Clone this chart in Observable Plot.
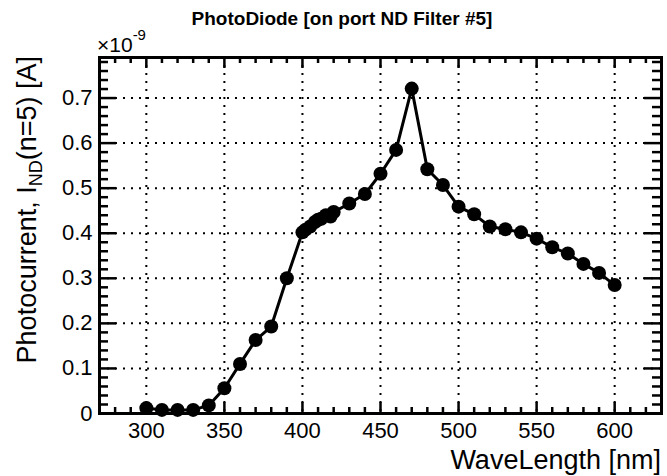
<!DOCTYPE html>
<html><head><meta charset="utf-8">
<script src="https://cdn.jsdelivr.net/npm/d3@7"></script>
<script src="https://cdn.jsdelivr.net/npm/@observablehq/plot@0.6"></script>
<style>body{margin:0;background:#fff} svg{display:block}</style>
</head><body><div id="chart"></div>
<script>
// Wavelength [nm]
const wavelength = [300,310,320,330,340,350,360,370,380,390,400,402,405,408,410,412,415,418,420,430,440,450,460,470,480,490,500,510,520,530,540,550,560,570,580,590,600];
// Photocurrent [x1e-9 A]
const current = [0.012,0.008,0.008,0.008,0.018,0.056,0.110,0.163,0.193,0.300,0.402,0.408,0.415,0.425,0.430,0.432,0.440,0.437,0.447,0.466,0.487,0.532,0.585,0.721,0.542,0.507,0.459,0.442,0.415,0.409,0.402,0.388,0.369,0.355,0.332,0.312,0.285];

const xMajor = [300,350,400,450,500,550,600];
const xMinor = [280,290,310,320,330,340,360,370,380,390,410,420,430,440,460,470,480,490,510,520,530,540,560,570,580,590,610,620];
const yMajor = [0,0.1,0.2,0.3,0.4,0.5,0.6,0.7];
const yTickLabels = ["0","0.1","0.2","0.3","0.4","0.5","0.6","0.7"];
const yMinor = [0.02,0.04,0.06,0.08,0.12,0.14,0.16,0.18,0.22,0.24,0.26,0.28,0.32,0.34,0.36,0.38,0.42,0.44,0.46,0.48,0.52,0.54,0.56,0.58,0.62,0.64,0.66,0.68,0.72,0.74,0.76,0.78];

const titleText = "PhotoDiode [on port ND Filter #5]";
const xLabel = "WaveLength [nm]";

const W = 667, H = 476, mt = 57, mb = 63, ml = 99, mr = 6;
const fw = W - ml - mr, fh = H - mt - mb;
const data = wavelength.map((w, i) => ({w, c: current[i]}));
const font = "'Liberation Sans', Arial, Helvetica, sans-serif";

const dash = {stroke: "black", strokeWidth: 2, strokeDasharray: "2,6"};
const tk = {stroke: "black", strokeWidth: 2.5};
const plot = Plot.plot({
  width: W, height: H,
  marginTop: mt, marginBottom: mb, marginLeft: ml, marginRight: mr,
  style: {fontFamily: font, background: "white", color: "black"},
  x: {domain: [270, 630]},
  y: {domain: [0, 0.79]},
  marks: [
    Plot.ruleX(xMajor, {x: d => d, ...dash}),
    Plot.ruleY(yMajor.slice(1), {y: d => d, ...dash}),
    // inward ticks on all four sides
    Plot.tickX(xMajor, {x: d => d, insetTop: fh - 11, ...tk}),
    Plot.tickX(xMajor, {x: d => d, insetBottom: fh - 11, ...tk}),
    Plot.tickX(xMinor, {x: d => d, insetTop: fh - 6, ...tk}),
    Plot.tickX(xMinor, {x: d => d, insetBottom: fh - 6, ...tk}),
    Plot.tickY(yMajor, {y: d => d, insetRight: fw - 17, ...tk}),
    Plot.tickY(yMajor, {y: d => d, insetLeft: fw - 17, ...tk}),
    Plot.tickY(yMinor, {y: d => d, insetRight: fw - 9, ...tk}),
    Plot.tickY(yMinor, {y: d => d, insetLeft: fw - 9, ...tk}),
    Plot.axisX({ticks: xMajor, tickSize: 0, tickPadding: 9, fontSize: 22, label: null}),
    Plot.axisY({ticks: yMajor, tickSize: 0, tickPadding: 7, fontSize: 22, label: null,
      tickFormat: d => yTickLabels[yMajor.indexOf(d)]}),
    Plot.line(data, {x: "w", y: "c", stroke: "black", strokeWidth: 3}),
    Plot.dot(data, {x: "w", y: "c", r: 7, fill: "black", stroke: "none"}),
    Plot.frame({stroke: "black", strokeWidth: 3})
  ]
});
document.getElementById("chart").appendChild(plot);

const svg = d3.select(plot);
svg.append("text").attr("x", 342).attr("y", 25).attr("text-anchor", "middle")
  .style("font", `bold 19px ${font}`).text(titleText);
const mult = svg.append("text").attr("x", 97).attr("y", 52).attr("text-anchor", "start")
  .style("font", `21px ${font}`);
mult.append("tspan").text("×10");
mult.append("tspan").attr("dy", -12).style("font-size", "15px").text("-9");
svg.append("text").attr("x", 661).attr("y", 469).attr("text-anchor", "end")
  .style("font", `27px ${font}`).text(xLabel);
const yl = svg.append("text").attr("transform", "translate(36,56) rotate(-90)")
  .attr("text-anchor", "end").style("font", `27px ${font}`);
yl.append("tspan").text("Photocurrent, I");
yl.append("tspan").attr("dy", 6).style("font-size", "18px").text("ND");
yl.append("tspan").attr("dy", -6).text("(n=5) [A]");
</script></body></html>
